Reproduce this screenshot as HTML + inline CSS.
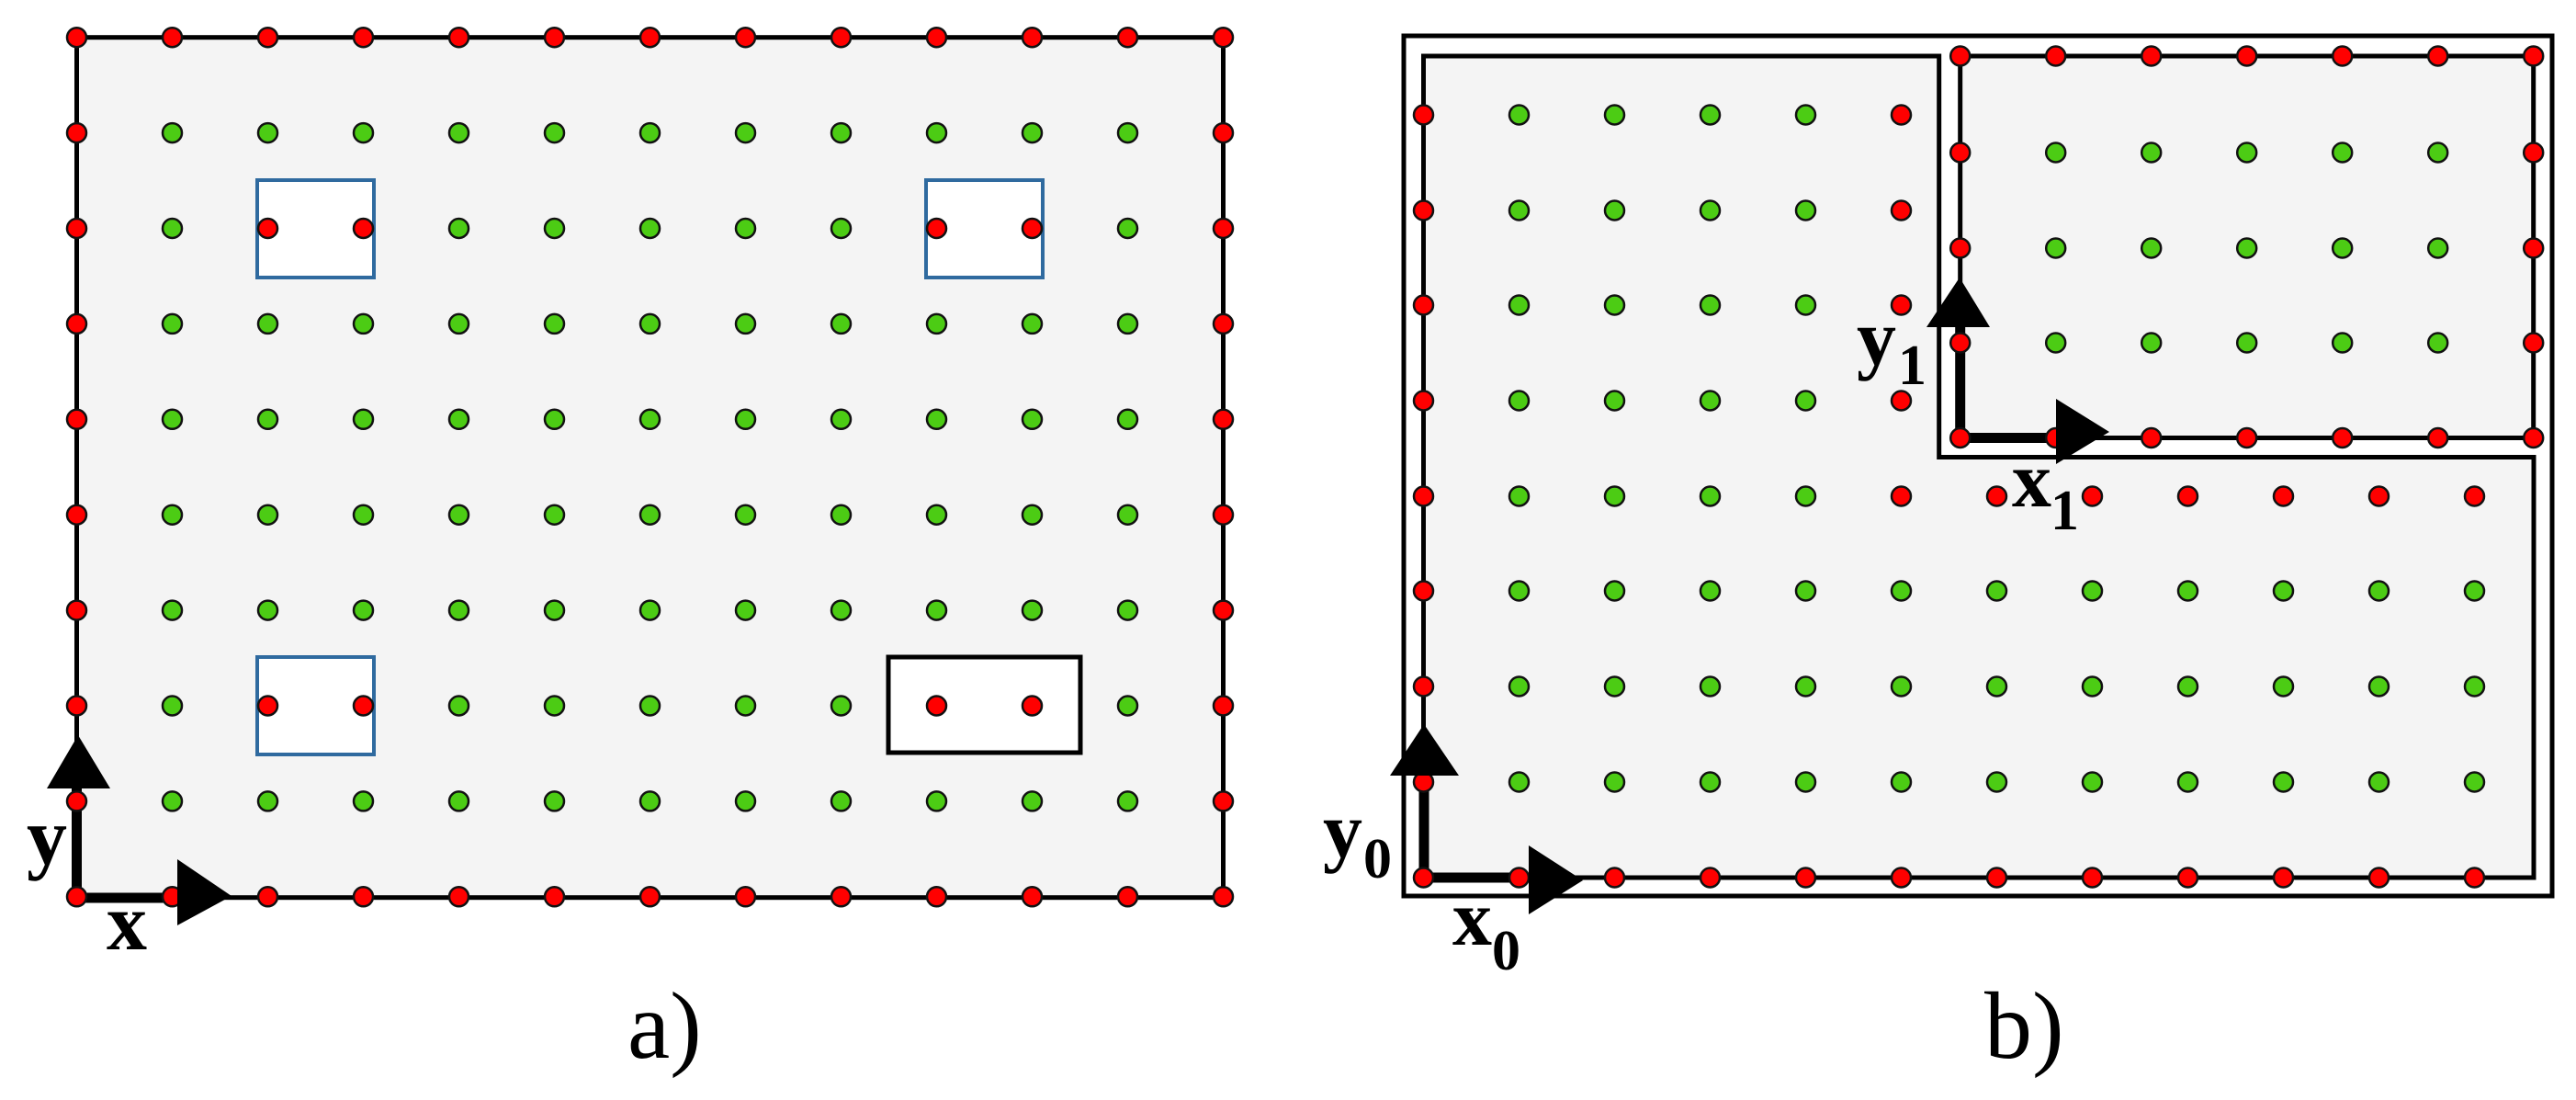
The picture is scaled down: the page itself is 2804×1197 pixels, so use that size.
<!DOCTYPE html>
<html><head><meta charset="utf-8">
<style>html,body{margin:0;padding:0;background:#fff;}svg{display:block;}
text{font-family:"Liberation Serif","DejaVu Serif",serif;}
.b{font-weight:bold;}</style>
</head><body>
<svg id="s" xmlns="http://www.w3.org/2000/svg" width="2804" height="1197" viewBox="0 0 2804 1197">
<rect width="2804" height="1197" fill="#fff"/>
<rect x="83.5" y="40.7" width="1248" height="936" fill="#f4f4f4" stroke="#000" stroke-width="5"/>
<rect x="280" y="196" width="127" height="106" fill="#fff" stroke="#2f6a9f" stroke-width="4"/>
<rect x="1008" y="196" width="127" height="106" fill="#fff" stroke="#2f6a9f" stroke-width="4"/>
<rect x="280" y="715" width="127" height="106" fill="#fff" stroke="#2f6a9f" stroke-width="4"/>
<rect x="967" y="715" width="209" height="104" fill="#fff" stroke="#000" stroke-width="5"/>
<g id="dotsA"></g>
<line x1="83.5" y1="977" x2="83.5" y2="850" stroke="#000" stroke-width="11"/>
<line x1="83.5" y1="977" x2="200" y2="977" stroke="#000" stroke-width="11"/>
<g id="dotsA2"></g>
<polygon points="51,858 120,858 85,800" fill="#000"/>
<polygon points="193,935 193,1007 252,975" fill="#000"/>
<text class="b" x="29" y="940" font-size="88">y</text>
<text class="b" x="116" y="1033" font-size="88">x</text>
<text x="683" y="1151" font-size="104">a)</text>

<rect x="1528" y="39" width="1250" height="936" fill="#fff" stroke="#000" stroke-width="5"/>
<polygon points="1549.5,61 2110.7,61 2110.7,497.5 2758,497.5 2758,955 1549.5,955" fill="#f4f4f4" stroke="#000" stroke-width="5"/>
<rect x="2133.7" y="61" width="624" height="415.5" fill="#f4f4f4" stroke="#000" stroke-width="5"/>
<g id="dotsB"></g>
<line x1="1550" y1="955" x2="1550" y2="835" stroke="#000" stroke-width="11"/>
<line x1="1550" y1="955" x2="1670" y2="955" stroke="#000" stroke-width="11"/>
<line x1="2133.7" y1="476.5" x2="2133.7" y2="350" stroke="#000" stroke-width="11"/>
<line x1="2133.7" y1="476.5" x2="2245" y2="476.5" stroke="#000" stroke-width="11"/>
<g id="dotsB2"></g>
<polygon points="1513,844 1588,844 1550,788" fill="#000"/>
<polygon points="1664,920 1664,995 1723,958" fill="#000"/>
<polygon points="2097,356 2166,356 2133,302" fill="#000"/>
<polygon points="2238,434 2238,505 2296,470" fill="#000"/>
<text class="b" x="1440" y="932" font-size="86">y</text>
<text class="b" x="1484" y="955" font-size="62">0</text>
<text class="b" x="1581" y="1028" font-size="86">x</text>
<text class="b" x="1624" y="1055" font-size="62">0</text>
<text class="b" x="2021" y="396" font-size="86">y</text>
<text class="b" x="2066" y="418" font-size="62">1</text>
<text class="b" x="2190" y="551" font-size="86">x</text>
<text class="b" x="2232" y="576" font-size="62">1</text>
<text x="2160" y="1151" font-size="104">b)</text>
</svg>
<script>
(function(){
var NS="http://www.w3.org/2000/svg";
function dot(g,x,y,red){var c=document.createElementNS(NS,"circle");c.setAttribute("cx",x);c.setAttribute("cy",y);c.setAttribute("r",10.5);c.setAttribute("fill",red?"#ff0000":"#4ccc14");c.setAttribute("stroke","#111");c.setAttribute("stroke-width","2.5");g.appendChild(c);}
var gA=document.getElementById("dotsA"),gA2=document.getElementById("dotsA2");
var sx=104,sy=103.9;
for(var j=0;j<10;j++){for(var i=0;i<13;i++){
 var x=83.5+sx*i,y=40.7+sy*j;
 var edge=(i==0||i==12||j==0||j==9);
 var inBox=((j==2||j==7)&&(i==2||i==3))||(j==2&&(i==9||i==10))||(j==7&&(i==9||i==10));
 if(edge||inBox){ if(i==0&&j>=8||j==9&&i<=1) dot(gA2,x,y,true); else dot(gA,x,y,true);} else dot(gA,x,y,false);
}}
var gB=document.getElementById("dotsB"),gB2=document.getElementById("dotsB2");
var rows=[125,229,332,436,540,643,747,851,955];
for(var r=0;r<rows.length;r++){var y=rows[r];
 for(var k=0;k<12;k++){var x=1549.5+104*k;
  if(r<4&&k>5)continue;
  var red;
  if(k==0||r==8)red=true;
  else if(r<=4&&k==5)red=true;
  else if(r==4&&k>5)red=true;
  else red=false;
  if((k==0&&r>=7)||(r==8&&k<=1))dot(gB2,x,y,red);else dot(gB,x,y,red);
 }}
var urows=[61,166,270,373,476.5];
for(var r=0;r<5;r++){for(var k=0;k<7;k++){var x=2133.7+104*k,y=urows[r];
 var red=(r==0||r==4||k==0||k==6);
 if((k==0&&r>=3)||(r==4&&k<=1))dot(gB2,x,y,red);else dot(gB,x,y,red);}}
})();
</script>
</body></html>
